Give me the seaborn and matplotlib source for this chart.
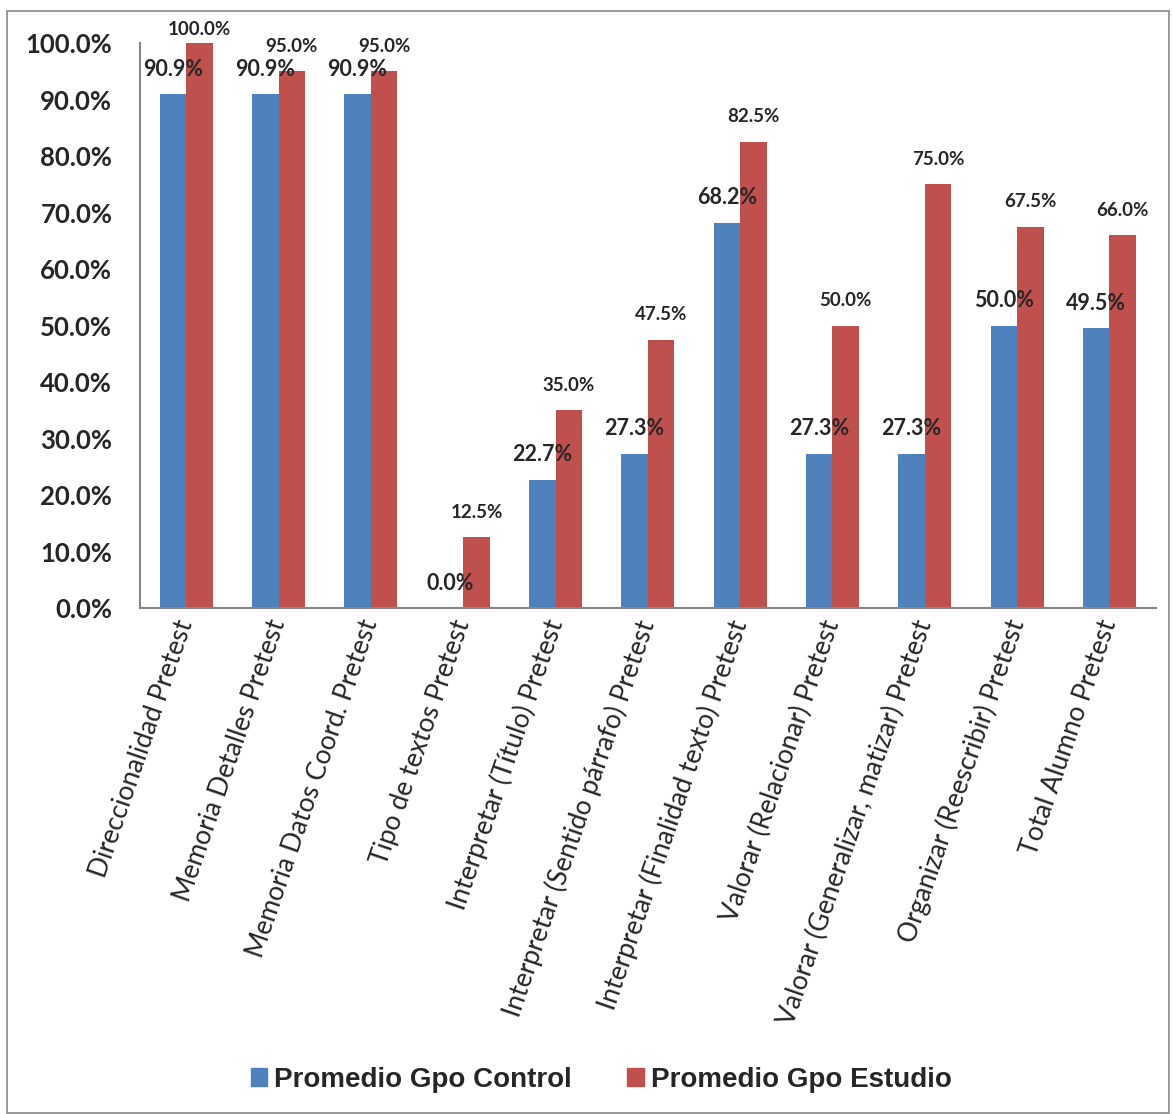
import matplotlib
matplotlib.use("Agg")
import matplotlib.pyplot as plt
from matplotlib.patches import Rectangle
import seaborn as sns
import pandas as pd

categories = [
    "Direccionalidad Pretest",
    "Memoria Detalles Pretest",
    "Memoria Datos Coord. Pretest",
    "Tipo de textos Pretest",
    "Interpretar (Título) Pretest",
    "Interpretar (Sentido párrafo) Pretest",
    "Interpretar (Finalidad texto) Pretest",
    "Valorar (Relacionar) Pretest",
    "Valorar (Generalizar, matizar) Pretest",
    "Organizar (Reescribir) Pretest",
    "Total Alumno Pretest",
]
control = [90.9, 90.9, 90.9, 0.0, 22.7, 27.3, 68.2, 27.3, 27.3, 50.0, 49.5]
estudio = [100.0, 95.0, 95.0, 12.5, 35.0, 47.5, 82.5, 50.0, 75.0, 67.5, 66.0]
series = ["Promedio Gpo Control", "Promedio Gpo Estudio"]
colors = ["#4F81BD", "#C0504D"]

df = pd.DataFrame({
    "cat": categories * 2,
    "serie": [series[0]] * len(categories) + [series[1]] * len(categories),
    "val": control + estudio,
})

sns.set_theme(style="white")
plt.rcParams["font.family"] = ["Lato", "DejaVu Sans"]

fig = plt.figure(figsize=(11.72, 11.14), dpi=100)
ax = fig.add_axes([0.1195, 0.4542, 0.8665, 0.5072])

sns.barplot(data=df, x="cat", y="val", hue="serie", palette=colors,
            width=0.575, saturation=1, linewidth=0, ax=ax, legend=False)

ax.set_ylim(0, 100)
ax.set_xlim(-0.5, len(categories) - 0.5)
ax.set_yticks(range(0, 101, 10))
ax.set_yticklabels([f"{v:.1f}%" for v in range(0, 101, 10)],
                   fontsize=18.5, fontweight="bold")
ax.set_xticks(range(len(categories)))
ax.set_xticklabels(categories, rotation=71, ha="right", va="center",
                   rotation_mode="anchor", fontsize=19)
ax.tick_params(axis="y", length=0, pad=20)
ax.tick_params(axis="x", length=0, pad=9)
ax.set_xlabel("")
ax.set_ylabel("")
for s in ["top", "right"]:
    ax.spines[s].set_visible(False)
for s in ["left", "bottom"]:
    ax.spines[s].set_color("#868686")
    ax.spines[s].set_linewidth(1.5)

# etiquetas de datos
for i, cont in enumerate(ax.containers):
    vals = control if i == 0 else estudio
    for bar, v in zip(cont, vals):
        off = 10 if v >= 100 else 18
        ax.annotate(f"{v:.1f}%", (bar.get_x() + bar.get_width() / 2, bar.get_height()),
                    xytext=(0, off), textcoords="offset points",
                    ha="center", va="center", fontweight="bold",
                    fontsize=15.5 if i == 0 else 13.5, annotation_clip=False)

handles = [Rectangle((0, 0), 1, 1, color=c) for c in colors]
fig.legend(handles, series, loc="center", bbox_to_anchor=(0.513, 0.0305),
           ncol=2, frameon=False, handlelength=0.6, handleheight=0.6,
           handletextpad=0.25, columnspacing=2.0,
           prop={"family": "Liberation Sans", "weight": "bold", "size": 20})

fig.patches.append(Rectangle((7 / 1172, 0.001), 1162 / 1172, 1 - 11 / 1114 - 0.001,
                             transform=fig.transFigure, fill=False,
                             edgecolor="#868686", linewidth=1.2))

fig.savefig("out.png", dpi=100)
